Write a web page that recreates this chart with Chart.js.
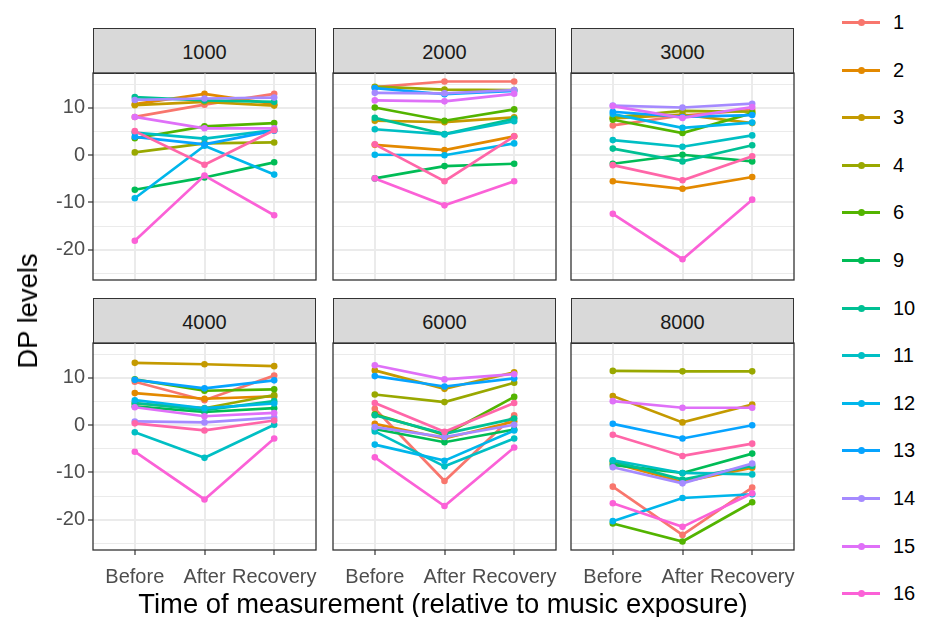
<!DOCTYPE html>
<html>
<head>
<meta charset="utf-8">
<script src="https://cdn.jsdelivr.net/npm/chart.js@4.4.1/dist/chart.umd.min.js"></script>
<style>
  html, body { margin: 0; padding: 0; background: #fff; }
  #fig { position: relative; width: 928px; height: 617px; overflow: hidden;
         font-family: "Liberation Sans", Arial, sans-serif; background: #fff; }
  .strip { position: absolute; background: #D9D9D9; border: 1.3px solid #333333; box-sizing: border-box;
           color: #1A1A1A; font-size: 20px; display: flex; align-items: center; justify-content: center;
           padding-top: 2px; }
  .title { position: absolute; color: #000; font-size: 27.4px; white-space: nowrap; }
  .key { position: absolute; height: 24px; }
  .key .ln { position: absolute; left: 0; top: 11px; width: 38px; height: 3px; }
  .key .dt { position: absolute; left: 15.5px; top: 9px; width: 7px; height: 7px; border-radius: 50%; }
  .key .lb { position: absolute; left: 51px; top: 0; font-size: 20px; line-height: 24px; color: #000; }
</style>
</head>
<body>
<div id="fig"></div>
<script>
// Measurement occasions and subjects
const timepoints = ['Before', 'After', 'Recovery'];
const frequencies = ['1000', '2000', '3000', '4000', '6000', '8000'];
const subjects = ['1', '2', '3', '4', '6', '9', '10', '11', '12', '13', '14', '15', '16', '17'];
const legendSubjects = ['1', '2', '3', '4', '6', '9', '10', '11', '12', '13', '14', '15', '16'];
const colours = ['#F8766D', '#E38900', '#C49A00', '#99A800', '#53B400', '#00BC56', '#00C094',
                 '#00BFC4', '#00B6EB', '#06A4FF', '#A58AFF', '#DF70F8', '#FB61D7', '#FF66A8'];

// DP levels per subject (rows follow `subjects`), columns follow `timepoints`
const dp1000 = [
  [8.1, 10.7, 13.0], [10.8, 13.0, 10.8], [10.6, 11.3, 10.5], [0.6, 2.5, 2.7],
  [3.6, 6.1, 6.8], [-7.3, -4.7, -1.5], [12.3, 11.6, 11.3], [4.8, 3.5, 5.3],
  [-9.1, 2.0, -4.1], [3.9, 2.3, 5.2], [11.7, 12.0, 12.2], [8.1, 5.7, 5.7],
  [-18.1, -4.3, -12.7], [5.1, -2.0, 5.3]
];
const dp2000 = [
  [14.4, 15.6, 15.6], [2.2, 1.1, 4.0], [7.3, 7.0, 8.0], [14.5, 13.9, 13.8],
  [10.1, 7.3, 9.7], [-4.9, -2.3, -1.8], [7.9, 4.5, 7.7], [5.5, 4.4, 7.2],
  [0.1, 0.0, 2.5], [14.2, 12.9, 13.6], [13.2, 13.1, 13.8], [11.6, 11.4, 13.0],
  [-4.9, -10.6, -5.5], [2.3, -5.5, 4.0]
];
const dp3000 = [
  [6.3, 8.4, 9.6], [-5.5, -7.1, -4.6], [7.8, 8.6, 6.8], [8.0, 9.4, 9.2],
  [7.5, 4.7, 8.9], [-1.8, 0.1, -1.3], [1.4, -1.3, 2.1], [3.2, 1.8, 4.2],
  [8.7, 5.8, 6.9], [9.2, 8.1, 8.5], [10.5, 10.1, 10.9], [10.4, 7.9, 10.2],
  [-12.4, -22.0, -9.4], [-2.1, -5.3, -0.2]
];
const dp4000 = [
  [9.2, 5.3, 10.5], [6.8, 5.6, 6.1], [13.2, 12.9, 12.5], [4.6, 3.6, 6.4],
  [9.7, 7.3, 7.6], [4.0, 2.8, 3.6], [4.7, 3.2, 5.1], [-1.5, -6.9, 0.1],
  [5.3, 3.6, 4.6], [9.6, 7.8, 9.5], [0.8, 0.6, 1.6], [3.8, 1.9, 2.6],
  [-5.6, -15.7, -2.8], [0.4, -1.1, 1.0]
];
const dp6000 = [
  [3.5, -11.8, 2.1], [0.3, -2.8, 0.8], [11.6, 7.7, 11.2], [6.5, 4.9, 9.0],
  [2.3, -2.0, 6.0], [-0.8, -3.6, -0.9], [2.1, -1.8, 1.4], [-1.3, -8.7, -2.8],
  [-4.1, -7.5, -1.1], [10.4, 8.2, 9.9], [-0.4, -2.5, 0.1], [12.7, 9.7, 10.8],
  [-6.8, -17.1, -4.7], [4.7, -1.4, 4.7]
];
const dp8000 = [
  [-13.0, -23.2, -13.2], [-8.0, -12.0, -9.0], [6.2, 0.6, 4.4], [11.5, 11.4, 11.4],
  [-20.8, -24.6, -16.3], [-8.4, -10.1, -6.0], [-7.6, -11.5, -8.6], [-7.4, -10.1, -10.4],
  [-20.3, -15.4, -14.6], [0.3, -2.8, 0.0], [-8.9, -12.3, -8.1], [5.1, 3.7, 3.7],
  [-16.5, -21.5, -14.4], [-2.0, -6.5, -3.9]
];
const panelData = [dp1000, dp2000, dp3000, dp4000, dp6000, dp8000];

// Facet grid geometry
const panelLefts = [93, 333, 571];
const panelTops = [73, 343];
const panelWidth = 223;
const panelHeight = 207;
const stripHeight = 45;
const Y_MIN = -26.4, Y_MAX = 17.4;
const M = 4, PAD_L = 70, PAD_B = 60;
const FONT = '"Liberation Sans", Arial, sans-serif';

const fig = document.getElementById('fig');

const panelBorder = {
  id: 'panelBorder',
  afterDraw(chart) {
    const { ctx, chartArea: a } = chart;
    ctx.save();
    ctx.strokeStyle = '#333333';
    ctx.lineWidth = 1.3;
    ctx.strokeRect(a.left, a.top, a.right - a.left, a.bottom - a.top);
    ctx.restore();
  }
};

function isMajor(v) { return Math.abs(v % 10) < 1e-9; }

function makePanel(values, idx) {
  const col = idx % 3, row = Math.floor(idx / 3);
  const showY = col === 0, showX = row === 1;
  const padL = showY ? PAD_L : 0, padB = showX ? PAD_B : 0;
  const W = padL + panelWidth + 2 * M, H = panelHeight + padB + 2 * M;

  const strip = document.createElement('div');
  strip.className = 'strip';
  strip.style.left = panelLefts[col] + 'px';
  strip.style.top = (panelTops[row] - stripHeight) + 'px';
  strip.style.width = panelWidth + 'px';
  strip.style.height = (stripHeight + 1) + 'px';
  strip.textContent = frequencies[idx];
  fig.appendChild(strip);

  const canvas = document.createElement('canvas');
  canvas.width = W; canvas.height = H;
  canvas.style.cssText = `position:absolute;left:${panelLefts[col] - padL - M}px;top:${panelTops[row] - M}px;width:${W}px;height:${H}px`;
  fig.appendChild(canvas);

  const datasets = subjects.map((s, i) => ({
    label: s,
    data: values[i].map((y, k) => ({ x: k, y })),
    borderColor: colours[i],
    backgroundColor: colours[i],
    pointBackgroundColor: colours[i],
    pointBorderWidth: 0,
    pointRadius: 3.3,
    borderWidth: 2.7,
    tension: 0,
    order: subjects.length - i
  }));

  new Chart(canvas, {
    type: 'line',
    data: { datasets },
    options: {
      responsive: false,
      animation: false,
      devicePixelRatio: 1,
      events: [],
      layout: { padding: M },
      plugins: { legend: { display: false }, tooltip: { enabled: false } },
      scales: {
        x: {
          type: 'linear', min: -0.6, max: 2.6,
          afterFit(s) { s.height = padB; s.paddingLeft = 0; s.paddingRight = 0; },
          border: { display: false },
          grid: { color: '#EBEBEB', lineWidth: 2, drawTicks: showX, tickLength: 5,
                  tickColor: '#333333', tickWidth: 1.2 },
          ticks: { display: showX, stepSize: 1, includeBounds: false, autoSkip: false,
                   maxRotation: 0, minRotation: 0, padding: 10, color: '#4D4D4D',
                   font: { family: FONT, size: 20 },
                   callback: v => timepoints[v] ?? '' }
        },
        y: {
          min: Y_MIN, max: Y_MAX,
          afterFit(s) { s.width = padL; s.paddingTop = 0; s.paddingBottom = 0; },
          border: { display: false },
          grid: {
            color: '#EBEBEB',
            lineWidth: c => (c.tick && isMajor(c.tick.value)) ? 2 : 1,
            drawTicks: showY, tickLength: 5, tickWidth: 1.2,
            tickColor: c => (c.tick && isMajor(c.tick.value)) ? '#333333' : 'rgba(0,0,0,0)'
          },
          ticks: { display: showY, stepSize: 5, includeBounds: false, autoSkip: false, padding: 3,
                   color: '#4D4D4D', font: { family: FONT, size: 20 },
                   callback: v => isMajor(v) ? String(v) : '' }
        }
      }
    },
    plugins: [panelBorder]
  });
}

panelData.forEach((values, idx) => makePanel(values, idx));

// Axis titles
const yTitle = document.createElement('div');
yTitle.className = 'title';
yTitle.textContent = 'DP levels';
yTitle.style.left = '28px';
yTitle.style.top = '311px';
yTitle.style.transform = 'translate(-50%, -50%) rotate(-90deg)';
fig.appendChild(yTitle);

const xTitle = document.createElement('div');
xTitle.className = 'title';
xTitle.textContent = 'Time of measurement (relative to music exposure)';
xTitle.style.left = '443px';
xTitle.style.top = '604px';
xTitle.style.transform = 'translate(-50%, -50%)';
fig.appendChild(xTitle);

// Legend
legendSubjects.forEach((s, i) => {
  const key = document.createElement('div');
  key.className = 'key';
  key.style.left = '842px';
  key.style.top = Math.round(22 + i * 47.6 - 12) + 'px';
  const c = colours[subjects.indexOf(s)];
  key.innerHTML = `<div class="ln" style="background:${c}"></div><div class="dt" style="background:${c}"></div><div class="lb">${s}</div>`;
  fig.appendChild(key);
});
</script>
</body>
</html>
